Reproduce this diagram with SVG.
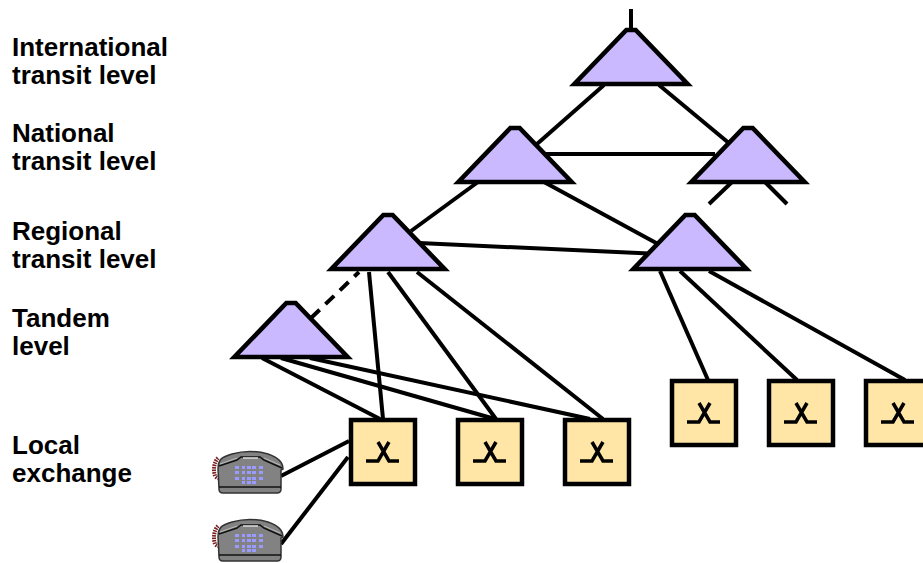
<svg xmlns="http://www.w3.org/2000/svg" width="923" height="563" viewBox="0 0 923 563">
<defs>
<style>
.lbl{font:bold 26px "Liberation Sans",Arial,sans-serif;fill:#000}
.c{stroke:#000;stroke-width:4;fill:none}
.tri{fill:#cbb9ff;stroke:#000;stroke-width:4.500;stroke-linejoin:miter}
.box{fill:#ffe6a6;stroke:#000;stroke-width:4.500}
.x{stroke:#000;stroke-width:3.500;fill:none}
</style>
<path id="t" class="tri" d="M-4.500 0H4.500L55 54H-55Z"/>
<g id="sw"><rect class="box" x="0" y="0" width="64" height="64"/><path class="x" d="M15 41H27L38 22M48 41H38L27 22"/></g>
<g id="ph">
<path d="M18 48C14 52 13 60 15 66C16 67 17 68 19 68" fill="none" stroke="#7a2020" stroke-width="4" stroke-dasharray="1.500 1"/>
<path d="M18 59C18 49 22 47 32 44Q50 39 68 44C77 47 83 51 83 59L81 60V79Q81 83 77 83H23Q19 83 19 79Z" fill="#828282" stroke="#333" stroke-width="1.500"/>
<path d="M19 56L37 50L41 47H60L64 50L82 58" fill="none" stroke="#111" stroke-width="1.500"/>
<path d="M20 54L37 48M64 48L80 55" fill="none" stroke="#bbb" stroke-width="1"/>
<path d="M43 48H58" stroke="#ddd" stroke-width="1.500"/>
<path d="M19 77H81" stroke="#111" stroke-width="1.300"/>
<g fill="#9a9aff"><rect x="35" y="56" width="4" height="3"/><rect x="42" y="56" width="3" height="3"/><rect x="47" y="56" width="4" height="3"/><rect x="52" y="56" width="4" height="3"/><rect x="59" y="56" width="4" height="3"/><rect x="35" y="61" width="4" height="3"/><rect x="42" y="61" width="3" height="3"/><rect x="47" y="61" width="4" height="3"/><rect x="52" y="61" width="4" height="3"/><rect x="59" y="61" width="4" height="3"/><rect x="35" y="67" width="4" height="3"/><rect x="42" y="67" width="3" height="3"/><rect x="47" y="67" width="4" height="3"/><rect x="52" y="67" width="4" height="3"/><rect x="59" y="67" width="4" height="3"/><rect x="42" y="71" width="3" height="3"/><rect x="47" y="71" width="4" height="3"/><rect x="52" y="71" width="4" height="3"/></g>
</g>
</defs>

<g id="labels">
<text class="lbl" x="12" y="56">International</text><text class="lbl" x="12" y="84">transit level</text>
<text class="lbl" x="12" y="142">National</text><text class="lbl" x="12" y="170">transit level</text>
<text class="lbl" x="12" y="240">Regional</text><text class="lbl" x="12" y="268">transit level</text>
<text class="lbl" x="12" y="327">Tandem</text><text class="lbl" x="12" y="355">level</text>
<text class="lbl" x="12" y="454">Local</text><text class="lbl" x="12" y="482">exchange</text>
</g>

<g id="connectors">
<path class="c" d="M631 9V30"/>
<path class="c" d="M604 85L537 144"/>
<path class="c" d="M659 85L730 144"/>
<path class="c" d="M545 154H715"/>
<path class="c" d="M732 182L709 204"/>
<path class="c" d="M765 182L787 204"/>
<path class="c" d="M478 182L411 231"/>
<path class="c" d="M544 182L658 244"/>
<path class="c" d="M419 243L660 254"/>
<path class="c" d="M311 318L359 272" stroke-dasharray="12 8"/>
<path class="c" d="M369 272L383 419"/>
<path class="c" d="M388 272L496 419"/>
<path class="c" d="M417 272L603 419"/>
<path class="c" d="M660 271L708 380"/>
<path class="c" d="M680 271L797 380"/>
<path class="c" d="M709 271L905 380"/>
<path class="c" d="M262 358L380 419"/>
<path class="c" d="M281 358L495 419"/>
<path class="c" d="M310 358L590 419"/>
<path class="c" d="M281 476L349 441"/>
<path class="c" d="M281 544L348 457"/>
</g>

<g id="t-international"><use href="#t" transform="translate(631 30) scale(1.030 1)"/></g>
<g id="t-national-1"><use href="#t" transform="translate(515 128) scale(1.030 1)"/></g>
<g id="t-national-2"><use href="#t" transform="translate(748 128) scale(1.030 1)"/></g>
<g id="t-regional-1"><use href="#t" transform="translate(388 215) scale(1.030 1)"/></g>
<g id="t-regional-2"><use href="#t" transform="translate(690 215) scale(1.030 1)"/></g>
<g id="t-tandem"><use href="#t" transform="translate(291 303) scale(1.030 1)"/></g>

<g id="sw-1"><use href="#sw" x="351" y="420"/></g>
<g id="sw-2"><use href="#sw" x="458" y="420"/></g>
<g id="sw-3"><use href="#sw" x="565" y="420"/></g>
<g id="sw-4"><use href="#sw" x="672" y="381"/></g>
<g id="sw-5"><use href="#sw" x="769" y="381"/></g>
<g id="sw-6"><use href="#sw" x="866" y="381"/></g>

<g id="phone-1"><use href="#ph" x="200" y="410"/></g>
<g id="phone-2"><use href="#ph" x="200" y="478"/></g>
</svg>
